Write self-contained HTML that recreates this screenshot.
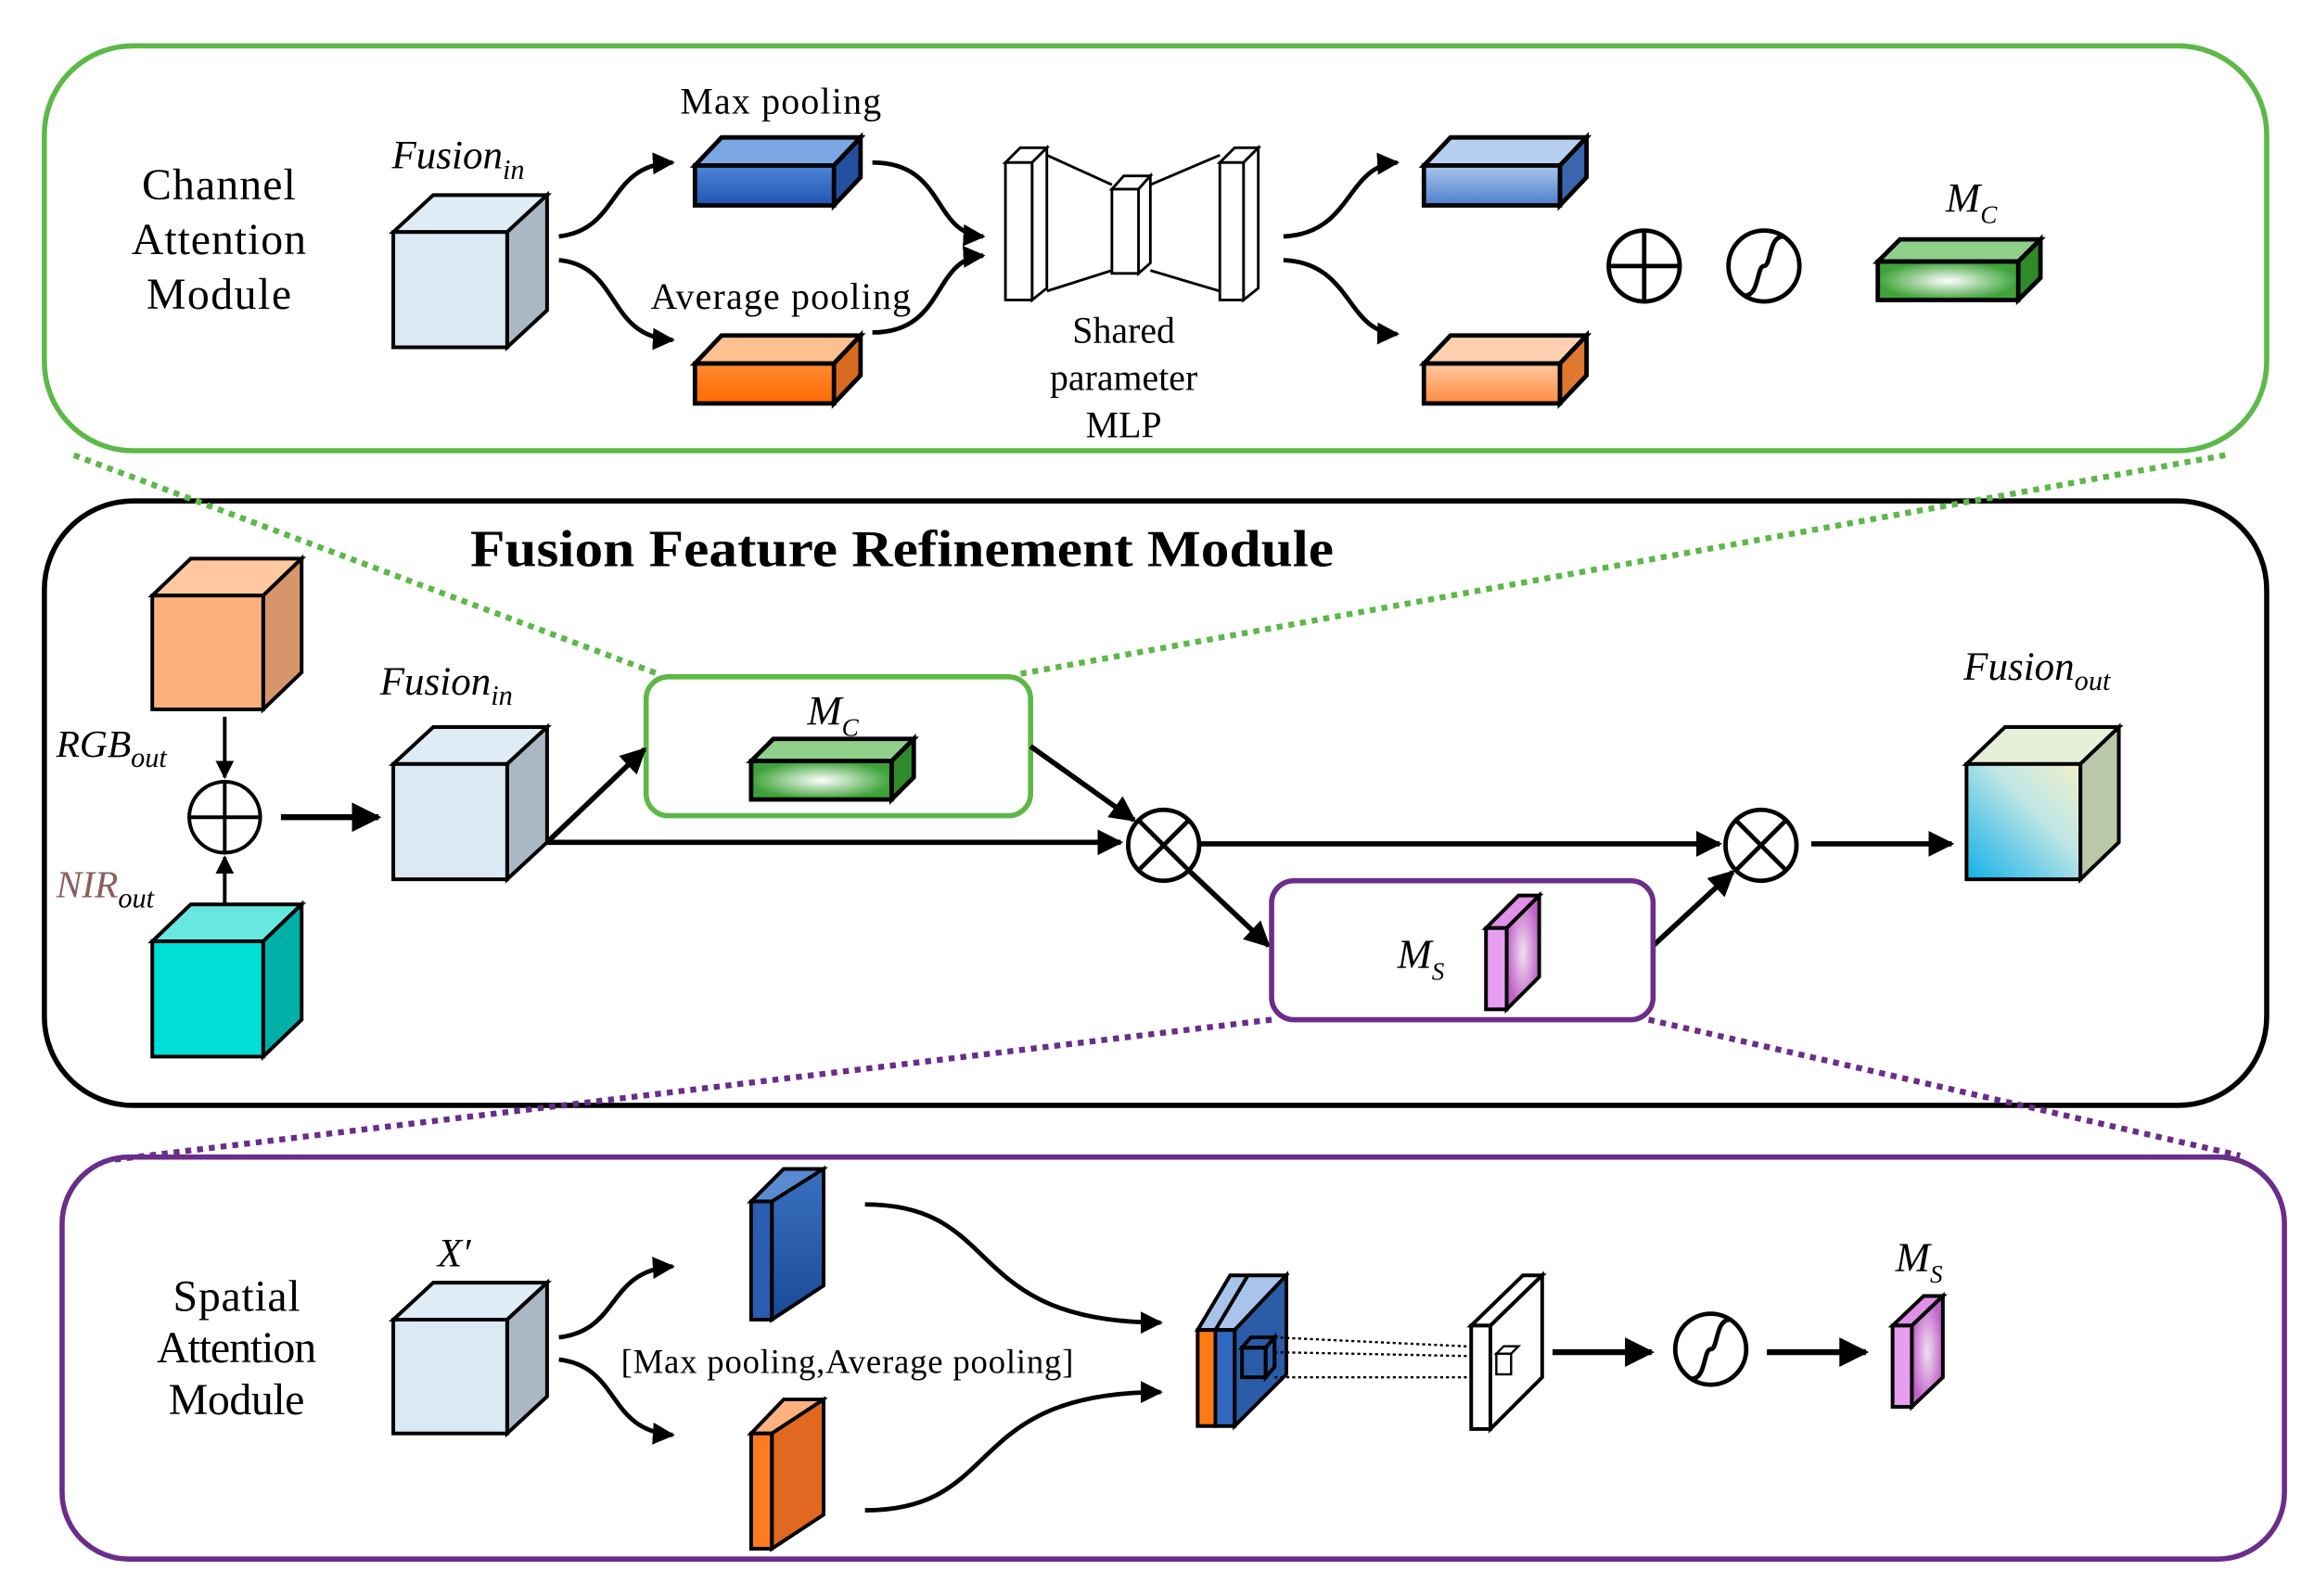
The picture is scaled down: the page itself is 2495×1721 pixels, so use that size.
<!DOCTYPE html>
<html><head><meta charset="utf-8"><style>
html,body{margin:0;padding:0;background:#fff;}
svg{display:block;}
text{font-family:"Liberation Serif",serif;}
</style></head><body>
<svg width="2495" height="1721" viewBox="0 0 1565 1080" preserveAspectRatio="none" xmlns="http://www.w3.org/2000/svg">
<defs>
<marker id="ah" viewBox="0 0 10 10" refX="9" refY="5" markerWidth="5" markerHeight="5" orient="auto"><path d="M0,0 L10,5 L0,10 z" fill="#000"/></marker>
<linearGradient id="gblue" x1="0" y1="0" x2="0" y2="1"><stop offset="0" stop-color="#4f86d8"/><stop offset="1" stop-color="#1f55b0"/></linearGradient>
<linearGradient id="gblue2" x1="0" y1="0" x2="0" y2="1"><stop offset="0" stop-color="#a9c6ec"/><stop offset="1" stop-color="#4d80cc"/></linearGradient>
<linearGradient id="gor" x1="0" y1="0" x2="0" y2="1"><stop offset="0" stop-color="#ff8a30"/><stop offset="1" stop-color="#ff6a00"/></linearGradient>
<linearGradient id="gor2" x1="0" y1="0" x2="0" y2="1"><stop offset="0" stop-color="#ffc9a0"/><stop offset="1" stop-color="#ff8a40"/></linearGradient>
<radialGradient id="ggr"><stop offset="0" stop-color="#ffffff"/><stop offset="1" stop-color="#3fa33a"/></radialGradient>
<radialGradient id="gpk"><stop offset="0" stop-color="#f0e0f0"/><stop offset="1" stop-color="#c060c8"/></radialGradient>
<linearGradient id="gout" x1="0" y1="1" x2="1" y2="0"><stop offset="0" stop-color="#10b0e8"/><stop offset="0.6" stop-color="#bfe6e6"/><stop offset="1" stop-color="#f2f0c8"/></linearGradient>
<linearGradient id="gdb" x1="0" y1="0" x2="0" y2="1"><stop offset="0" stop-color="#3a70c0"/><stop offset="1" stop-color="#1a4a98"/></linearGradient>
</defs>

<rect x="30" y="31" width="1503" height="274" rx="60" fill="none" stroke="#5cb848" stroke-width="3.5"/>
<rect x="30" y="339" width="1503" height="409" rx="60" fill="none" stroke="#000" stroke-width="3.5"/>
<rect x="42" y="783" width="1503" height="272" rx="45" fill="none" stroke="#6a2d8a" stroke-width="3.5"/>

<g stroke-dasharray="4,4" stroke-width="4" fill="none">
<line x1="50" y1="308" x2="445" y2="456" stroke="#5cb848"/>
<line x1="1505" y1="308" x2="690" y2="456" stroke="#5cb848"/>
<line x1="860" y1="690" x2="75" y2="785" stroke="#6a2d8a"/>
<line x1="1115" y1="690" x2="1515" y2="782" stroke="#6a2d8a"/>
</g>

<g font-size="30" text-anchor="middle">
<text x="148" y="135" textLength="104">Channel</text><text x="148" y="172" textLength="118">Attention</text><text x="148" y="209" textLength="98">Module</text>
</g>
<text x="265" y="114" font-size="27" font-style="italic">Fusion<tspan font-size="19" dy="7">in</tspan></text>
<g stroke="#000" stroke-width="2.5">
<polygon points="266,157 293,132 370,132 343,157" fill="#dfecf6"/>
<polygon points="343,157 370,132 370,210 343,235" fill="#a9b8c4"/>
<rect x="266" y="157" width="77" height="78" fill="#dbe9f5"/>
</g>
<text x="528" y="77" font-size="25" text-anchor="middle" textLength="136">Max pooling</text>
<g stroke="#000" stroke-width="3">
<polygon points="470,112 488,93 582,93 564,112" fill="#7aa6e4"/>
<polygon points="564,112 582,93 582,120 564,139" fill="#2450a0"/>
<rect x="470" y="112" width="94" height="27" fill="url(#gblue)"/>
</g>
<text x="528" y="209" font-size="25" text-anchor="middle" textLength="176">Average pooling</text>
<g stroke="#000" stroke-width="3">
<polygon points="470,246 488,227 582,227 564,246" fill="#ffc090"/>
<polygon points="564,246 582,227 582,254 564,273" fill="#d86a20"/>
<rect x="470" y="246" width="94" height="27" fill="url(#gor)"/>
</g>
<g stroke="#000" stroke-width="3" fill="none" marker-end="url(#ah)">
<path d="M378,160 C420,155 410,112 455,110"/>
<path d="M378,176 C420,180 410,228 455,230"/>
<path d="M590,110 C640,110 630,158 665,160"/>
<path d="M590,225 C640,225 630,175 665,173"/>
<path d="M868,160 C915,158 910,112 945,110"/>
<path d="M868,176 C915,178 910,225 945,226"/>
</g>
<g stroke="#000" stroke-width="1.8" fill="#fff">
<polyline points="708,105 752,125" fill="none"/><polyline points="708,197 752,183" fill="none"/>
<polyline points="778,125 825,105" fill="none"/><polyline points="778,183 825,197" fill="none"/>
<polygon points="680,110 690,100 708,100 698,110"/><polygon points="698,110 708,100 708,195 698,203"/><rect x="680" y="110" width="18" height="93"/>
<polygon points="752,128 760,119 778,119 770,128"/><polygon points="770,128 778,119 778,178 770,185"/><rect x="752" y="128" width="18" height="57"/>
<polygon points="825,110 835,100 851,100 841,110"/><polygon points="841,110 851,100 851,195 841,203"/><rect x="825" y="110" width="16" height="93"/>
</g>
<g font-size="25" text-anchor="middle"><text x="760" y="232">Shared</text><text x="760" y="264">parameter</text><text x="760" y="296">MLP</text></g>
<g stroke="#000" stroke-width="3">
<polygon points="963,112 981,93 1073,93 1055,112" fill="#b8d0f0"/>
<polygon points="1055,112 1073,93 1073,120 1055,139" fill="#3a66b0"/>
<rect x="963" y="112" width="92" height="27" fill="url(#gblue2)"/>
<polygon points="963,246 981,227 1073,227 1055,246" fill="#ffd0b0"/>
<polygon points="1055,246 1073,227 1073,254 1055,273" fill="#e07830"/>
<rect x="963" y="246" width="92" height="27" fill="url(#gor2)"/>
</g>
<g stroke="#000" stroke-width="3" fill="none">
<circle cx="1112" cy="180" r="24"/><line x1="1088" y1="180" x2="1136" y2="180"/><line x1="1112" y1="156" x2="1112" y2="204"/>
<circle cx="1193" cy="180" r="24"/><path d="M1180,200 C1190,200 1188,180 1193,180 C1198,180 1196,160 1206,160"/>
</g>
<text x="1316" y="143" font-size="28" font-style="italic">M<tspan font-size="17" dy="8">C</tspan></text>
<g stroke="#000" stroke-width="3">
<polygon points="1270,177 1285,162 1380,162 1365,177" fill="#8fd08a"/>
<polygon points="1365,177 1380,162 1380,188 1365,203" fill="#2e8a2a"/>
<rect x="1270" y="177" width="95" height="26" fill="url(#ggr)"/>
</g>

<text x="318" y="383" font-size="35" font-weight="bold" textLength="584" lengthAdjust="spacingAndGlyphs">Fusion Feature Refinement Module</text>
<g stroke="#000" stroke-width="2.5">
<polygon points="103,403 129,378 204,378 178,403" fill="#ffc8a0"/>
<polygon points="178,403 204,378 204,455 178,480" fill="#d8946a"/>
<rect x="103" y="403" width="75" height="77" fill="#fdb27e"/>
<polygon points="103,637 129,612 204,612 178,637" fill="#66e8e0"/>
<polygon points="178,637 204,612 204,690 178,715" fill="#00b0a8"/>
<rect x="103" y="637" width="75" height="78" fill="#00dfd6"/>
</g>
<text x="38" y="512" font-size="26" font-style="italic">RGB<tspan font-size="19" dy="7">out</tspan></text>
<text x="38" y="607" font-size="26" font-style="italic" fill="#8b5e5e">NIR<tspan font-size="19" dy="7" fill="#000">out</tspan></text>
<g stroke="#000" stroke-width="2.5" fill="none">
<line x1="152" y1="485" x2="152" y2="526" marker-end="url(#ah)"/>
<line x1="152" y1="612" x2="152" y2="580" marker-end="url(#ah)"/>
<circle cx="152" cy="553" r="24"/><line x1="128" y1="553" x2="176" y2="553"/><line x1="152" y1="529" x2="152" y2="577"/>
</g>
<line x1="190" y1="553" x2="256" y2="553" stroke="#000" stroke-width="4" marker-end="url(#ah)"/>
<text x="257" y="470" font-size="27" font-style="italic">Fusion<tspan font-size="19" dy="7">in</tspan></text>
<g stroke="#000" stroke-width="2.5">
<polygon points="266,517 293,492 370,492 343,517" fill="#dfecf6"/>
<polygon points="343,517 370,492 370,570 343,595" fill="#a9b8c4"/>
<rect x="266" y="517" width="77" height="78" fill="#dbe9f5"/>
</g>
<rect x="437" y="458" width="260" height="94" rx="15" fill="none" stroke="#5cb848" stroke-width="3.5"/>
<text x="546" y="490" font-size="28" font-style="italic">M<tspan font-size="17" dy="8">C</tspan></text>
<g stroke="#000" stroke-width="3">
<polygon points="508,515 523,500 618,500 603,515" fill="#8fd08a"/>
<polygon points="603,515 618,500 618,526 603,541" fill="#2e8a2a"/>
<rect x="508" y="515" width="95" height="26" fill="url(#ggr)"/>
</g>
<g stroke="#000" stroke-width="3.5" fill="none" marker-end="url(#ah)">
<line x1="370" y1="570" x2="436" y2="507"/>
<line x1="370" y1="570" x2="758" y2="570"/>
<line x1="697" y1="505" x2="767" y2="555"/>
<line x1="812" y1="571" x2="1163" y2="571"/>
<line x1="1225" y1="571" x2="1320" y2="571"/>
<line x1="805" y1="590" x2="858" y2="640"/>
<line x1="1118" y1="640" x2="1172" y2="590"/>
</g>
<g stroke="#000" stroke-width="3" fill="#fff">
<circle cx="787" cy="572" r="24"/><line x1="770" y1="555" x2="804" y2="589"/><line x1="804" y1="555" x2="770" y2="589"/>
<circle cx="1191" cy="572" r="24"/><line x1="1174" y1="555" x2="1208" y2="589"/><line x1="1208" y1="555" x2="1174" y2="589"/>
</g>
<rect x="860" y="596" width="258" height="94" rx="15" fill="none" stroke="#6a2d8a" stroke-width="3.5"/>
<text x="945" y="655" font-size="28" font-style="italic">M<tspan font-size="17" dy="8">S</tspan></text>
<g stroke="#000" stroke-width="2.5">
<polygon points="1005,628 1027,606 1041,606 1019,628" fill="#e090e8"/>
<polygon points="1019,628 1041,606 1041,661 1019,683" fill="url(#gpk)"/>
<rect x="1005" y="628" width="14" height="55" fill="#e89ef0"/>
</g>
<text x="1328" y="460" font-size="27" font-style="italic">Fusion<tspan font-size="19" dy="7">out</tspan></text>
<g stroke="#000" stroke-width="2.5">
<polygon points="1330,517 1356,492 1433,492 1407,517" fill="#e6f0d8"/>
<polygon points="1407,517 1433,492 1433,570 1407,595" fill="#b8c8a8"/>
<rect x="1330" y="517" width="77" height="78" fill="url(#gout)"/>
</g>

<g font-size="30" text-anchor="middle">
<text x="160" y="887" textLength="86">Spatial</text><text x="160" y="922" textLength="108">Attention</text><text x="160" y="957" textLength="92">Module</text>
</g>
<text x="296" y="857" font-size="27" font-style="italic">X′</text>
<g stroke="#000" stroke-width="2.5">
<polygon points="266,893 293,868 370,868 343,893" fill="#dfecf6"/>
<polygon points="343,893 370,868 370,945 343,970" fill="#a9b8c4"/>
<rect x="266" y="893" width="77" height="77" fill="#dbe9f5"/>
</g>
<g stroke="#000" stroke-width="3" fill="none" marker-end="url(#ah)">
<path d="M378,905 C420,900 410,860 455,857"/>
<path d="M378,920 C420,925 410,968 455,971"/>
<path d="M585,815 C680,815 650,895 785,895"/>
<path d="M585,1022 C680,1022 650,942 785,942"/>
</g>
<g stroke="#000" stroke-width="2.5">
<polygon points="508,813 530,791 557,791 535,813" fill="#5a8ad0"/>
<polygon points="522,813 557,791 557,870 522,893" fill="url(#gdb)"/>
<rect x="508" y="813" width="14" height="80" fill="#2a5cb0"/>
<polygon points="508,970 530,947 557,947 535,970" fill="#ffb080"/>
<polygon points="522,970 557,947 557,1025 522,1048" fill="#e06820"/>
<rect x="508" y="970" width="14" height="78" fill="#ff7a20"/>
</g>
<text x="573" y="929" font-size="23" text-anchor="middle" textLength="306">[Max pooling,Average pooling]</text>
<g stroke="#000" stroke-width="2.5">
<polygon points="810,900 832,863 870,863 848,900" fill="#a8c4ea"/>
<polygon points="835,900 870,863 870,930 835,965" fill="#2a5ca8"/>
<rect x="810" y="900" width="12" height="65" fill="#ff7a10"/>
<rect x="822" y="900" width="13" height="65" fill="#3068c0"/>
<line x1="822" y1="900" x2="844" y2="863"/>
<polygon points="840,912 846,905 862,905 856,912" fill="none"/>
<polygon points="856,912 862,905 862,925 856,932" fill="none"/>
<rect x="840" y="912" width="16" height="20" fill="none"/>
</g>
<g stroke="#000" stroke-width="1.5" stroke-dasharray="2,2">
<line x1="862" y1="905" x2="1012" y2="912"/><line x1="862" y1="915" x2="1012" y2="918"/><line x1="862" y1="932" x2="1012" y2="932"/>
</g>
<g stroke="#000" stroke-width="2.5" fill="#fff">
<polygon points="995,897 1030,863 1043,863 1008,897"/>
<polygon points="1008,897 1043,863 1043,932 1008,967"/>
<rect x="995" y="897" width="13" height="70"/>
<rect x="1012" y="916" width="10" height="14" stroke-width="1.5"/>
<polygon points="1012,916 1017,911 1027,911 1022,916" stroke-width="1.5"/>
</g>
<g stroke="#000" stroke-width="4" marker-end="url(#ah)">
<line x1="1050" y1="915" x2="1117" y2="915"/>
<line x1="1195" y1="915" x2="1262" y2="915"/>
</g>
<g stroke="#000" stroke-width="3" fill="none">
<circle cx="1157" cy="913" r="24"/><path d="M1144,933 C1154,933 1152,913 1157,913 C1162,913 1160,893 1170,893"/>
</g>
<text x="1282" y="860" font-size="28" font-style="italic">M<tspan font-size="17" dy="8">S</tspan></text>
<g stroke="#000" stroke-width="2.5">
<polygon points="1280,897 1301,877 1314,877 1293,897" fill="#e090e8"/>
<polygon points="1293,897 1314,877 1314,932 1293,952" fill="url(#gpk)"/>
<rect x="1280" y="897" width="13" height="55" fill="#e89ef0"/>
</g>
</svg>
</body></html>
